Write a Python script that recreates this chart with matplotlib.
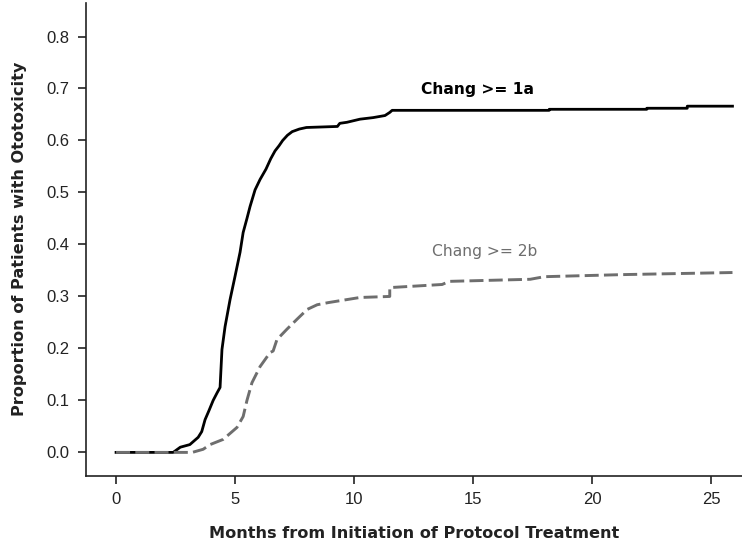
import matplotlib
matplotlib.use("Agg")
import matplotlib.pyplot as plt

# Chang >= 1a (solid black)
months_1a = [0.0, 2.4, 2.7, 3.1, 3.45, 3.6, 3.74, 3.9, 4.08, 4.25, 4.37, 4.45, 4.58, 4.79, 5.0,
             5.21, 5.34, 5.5, 5.63, 5.84, 6.05, 6.3, 6.5, 6.68, 6.85, 7.0, 7.2, 7.4, 7.7,
             8.0, 9.3, 9.4, 9.7, 10.25, 10.8, 11.3, 11.5, 11.6, 18.2, 18.2, 22.3, 22.3, 24.0, 24.0, 25.9]
prop_1a = [0.0, 0.0, 0.01, 0.015, 0.029, 0.04, 0.063, 0.08, 0.10, 0.115, 0.125, 0.198, 0.242, 0.294, 0.339,
           0.385, 0.423, 0.45, 0.473, 0.505, 0.525, 0.545, 0.565, 0.58, 0.59, 0.60, 0.61, 0.617, 0.622,
           0.625, 0.627, 0.633, 0.635, 0.641, 0.644, 0.648, 0.654, 0.658, 0.658, 0.66, 0.66, 0.662, 0.662, 0.666, 0.666]

# Chang >= 2b (dashed gray)
months_2b = [0.0, 3.2, 3.66, 3.95, 4.5, 5.08, 5.34, 5.5, 5.71, 6.05, 6.47, 6.6, 6.76, 7.18, 7.6,
             8.03, 8.45, 8.9, 9.3, 10.25, 11.5, 11.5, 13.7, 14.0, 17.4, 18.0, 21.3, 25.9]
prop_2b = [0.0, 0.0, 0.006, 0.015, 0.025, 0.048, 0.069, 0.10, 0.134, 0.165, 0.192, 0.195, 0.217, 0.237, 0.256,
           0.275, 0.284, 0.288, 0.291, 0.298, 0.30, 0.317, 0.323, 0.329, 0.333, 0.338, 0.342, 0.346]

x_ticks = [0, 5, 10, 15, 20, 25]
y_ticks = [0.0, 0.1, 0.2, 0.3, 0.4, 0.5, 0.6, 0.7, 0.8]

fig = plt.figure(figsize=(7.42, 5.45), dpi=100)
ax = fig.add_axes([0.116, 0.127, 0.884, 0.868])

ax.plot(months_1a, prop_1a, color='black', lw=2.0, zorder=2)
l2, = ax.plot(months_2b, prop_2b, color='#6e6e6e', lw=2.1, zorder=3)
l2.set_dashes((4.8, 1.8))

ax.set_xlim(-1.26, 26.3)
ax.set_ylim(-0.045, 0.865)
ax.set_xticks(x_ticks)
ax.set_xticklabels([str(t) for t in x_ticks], fontfamily='Liberation Sans')
ax.set_yticks(y_ticks)
ax.set_yticklabels([f"{t:.1f}" for t in y_ticks], fontfamily='Liberation Sans')

for s in ['top', 'right']:
    ax.spines[s].set_visible(False)
for s in ['left', 'bottom']:
    ax.spines[s].set_linewidth(1.2)
    ax.spines[s].set_color('#222222')

ax.tick_params(direction='out', length=6, width=1.2, color='#222222',
               labelsize=12, labelcolor='#222222', pad=6)

ax.set_xlabel('Months from Initiation of Protocol Treatment', fontsize=11.6,
              fontweight='bold', color='#222222', labelpad=13, family='DejaVu Sans')
ax.set_ylabel('Proportion of Patients with Ototoxicity', fontsize=11.6,
              fontweight='bold', color='#222222', labelpad=14, family='DejaVu Sans')

ax.text(15.2, 0.698, 'Chang >= 1a', fontsize=11.2, fontweight='bold', color='black',
        ha='center', va='center', family='DejaVu Sans')
ax.text(15.5, 0.387, 'Chang >= 2b', fontsize=11.2, color='#6e6e6e',
        ha='center', va='center', family='DejaVu Sans')

fig.savefig('out.png', dpi=100)
